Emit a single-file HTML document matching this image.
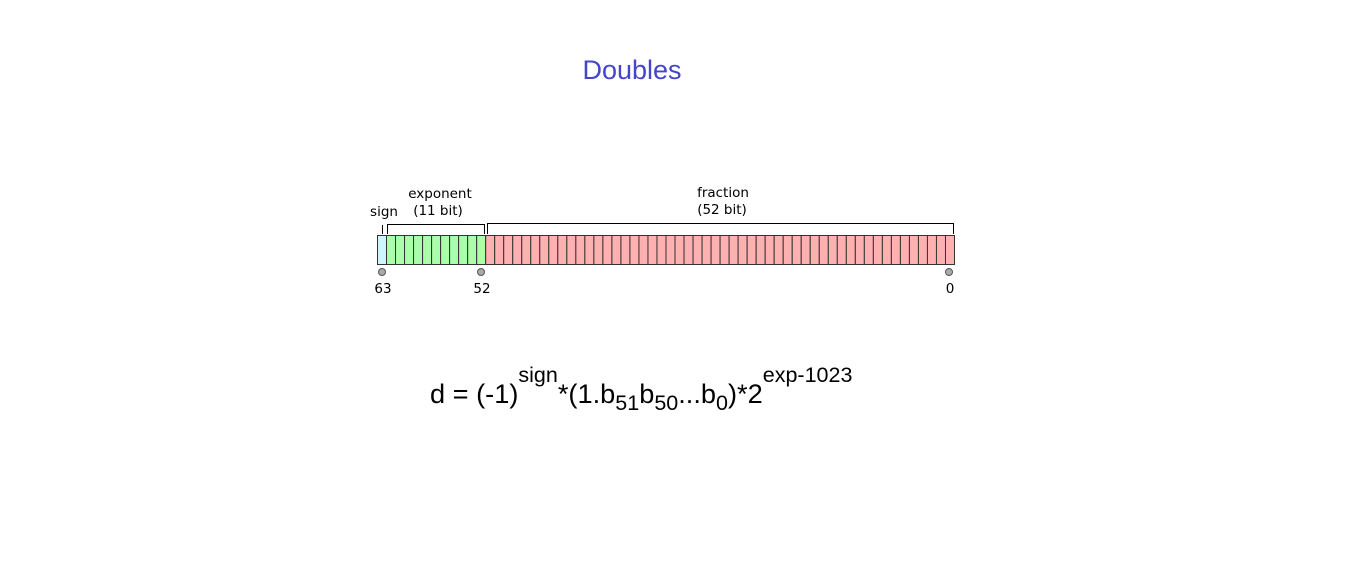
<!DOCTYPE html>
<html><head><meta charset="utf-8"><style>
body{margin:0;background:#fff;width:1360px;height:562px;overflow:hidden;font-family:"Liberation Sans","DejaVu Sans",sans-serif}
</style></head><body>
<svg width="1360" height="562" style="position:absolute;left:0;top:0">
<text x="632" y="79" text-anchor="middle" font-size="27" fill="#4444cc">Doubles</text>
<g id="cells"></g>
<g font-size="13.5" fill="#000" font-family="DejaVu Sans, sans-serif">
<text x="384" y="216" text-anchor="middle">sign</text>
<text x="440" y="198" text-anchor="middle">exponent</text>
<text x="438" y="215" text-anchor="middle">(11 bit)</text>
<text x="723" y="197" text-anchor="middle">fraction</text>
<text x="722" y="214" text-anchor="middle">(52 bit)</text>
<text x="383" y="293" text-anchor="middle">63</text>
<text x="482" y="293" text-anchor="middle">52</text>
<text x="950" y="293" text-anchor="middle">0</text>
</g>
<g fill="none" stroke="#000" stroke-width="1">
<path d="M382.5 225V234"/>
<path d="M387.5 234V224.5H484.5V234"/>
<path d="M487.5 234V223.5H953.5V234"/>
</g>
<g fill="#aaa" stroke="#555">
<circle cx="382" cy="272" r="3.5"/>
<circle cx="481" cy="272" r="3.5"/>
<circle cx="949" cy="272" r="3.5"/>
</g>
<text x="430" y="403" font-size="27.2" fill="#000">d = (-1)<tspan dy="-21" font-size="21.5">sign</tspan><tspan dy="21">*(1.b</tspan><tspan dy="7" font-size="21.5">51</tspan><tspan dy="-7">b</tspan><tspan dy="7" font-size="21.5">50</tspan><tspan dy="-7">...b</tspan><tspan dy="7" font-size="21.5">0</tspan><tspan dy="-7">)*2</tspan><tspan dy="-21" font-size="21.5">exp-1023</tspan></text>
</svg>
<script>
const g=document.getElementById('cells');
const x0=377.5,w=(954-377)/64,y=235.5,h=29;
for(let i=0;i<64;i++){
 const r=document.createElementNS('http://www.w3.org/2000/svg','rect');
 r.setAttribute('x',x0+i*w);r.setAttribute('y',y);r.setAttribute('width',w);r.setAttribute('height',h);
 r.setAttribute('fill',i==0?'#ccf5ff':(i<12?'#aaffaa':'#ffb0b0'));
 r.setAttribute('stroke','#333');r.setAttribute('stroke-width','1');
 
 
 g.appendChild(r);
}
</script>
</body></html>
